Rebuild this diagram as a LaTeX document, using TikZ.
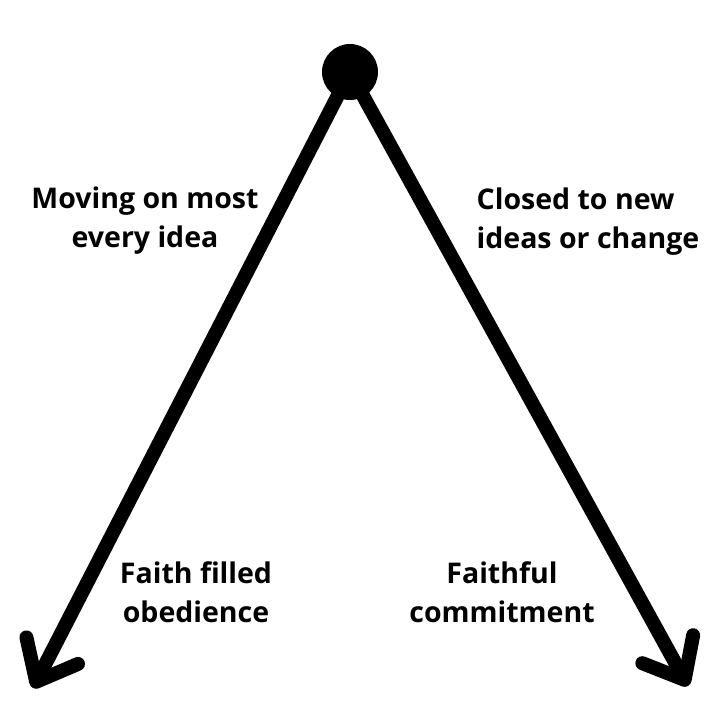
\documentclass[tikz,border=0pt]{standalone}
\usepackage{fontspec}
\setmainfont{Open Sans}
\usepackage{tikz}
\usetikzlibrary{
arrows.meta,
positioning
}

\begin{document}
\begin{tikzpicture}[
x=1pt, y=-1pt,
dot/.style={
circle,
fill=black,
minimum size=56pt,
inner sep=0pt
},
label/.style={
align=center,
font=\fontsize{28.5}{39}\selectfont\bfseries,
inner sep=0pt
},
arrowline/.style={line width=14pt,-{Straight Barb[length=35pt,width=58pt,round]}}
]
\useasboundingbox (0,0) rectangle (720,720);

\node[dot] (top) at (350,72) {};
\coordinate (lefttip) at (33,688);
\coordinate (righttip) at (688,686);

\draw[arrowline] (top.center) -- (lefttip);
\draw[arrowline] (top.center) -- (righttip);

\node[label] (moving) at (145,221) {Moving on most\\every idea};
\node[label,align=left] (closed) at (588,222) {Closed to new\\ideas or change};
\node[label] (faith) at (196,592) {Faith filled\\obedience};
\node[label] (faithful) at (502,592) {Faithful\\commitment};

\end{tikzpicture}
\end{document}
